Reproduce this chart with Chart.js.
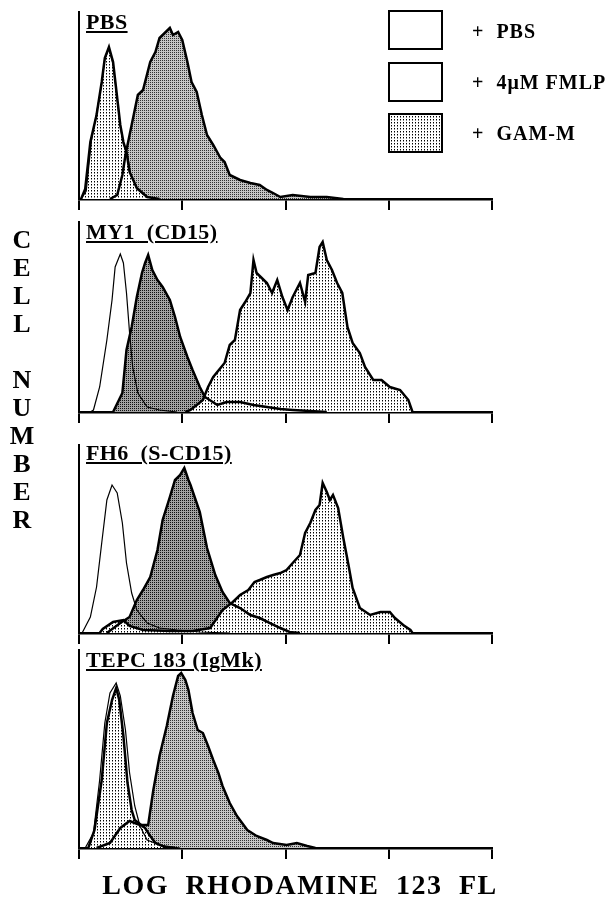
<!DOCTYPE html>
<html>
<head>
<meta charset="utf-8">
<script src="https://cdn.jsdelivr.net/npm/chart.js@4.4.1/dist/chart.umd.min.js"></script>
<style>
  body { margin: 0; background: #fff; }
  #page { position: relative; width: 616px; height: 899px; overflow: hidden; background: #fff;
          font-family: 'Liberation Serif', 'Times New Roman', serif; font-weight: bold; color: #000; }
  canvas.panel { position: absolute; left: 0; top: 0; }
  .tag { position: absolute; left: 86px; font-size: 22px; line-height: 22px; white-space: pre;
         text-decoration: underline; text-decoration-thickness: 2px; text-underline-offset: 2px; letter-spacing: 0.4px; }
  .box { position: absolute; left: 388px; width: 51px; height: 36px; border: 2px solid #000; background: #fff; }
  .key { position: absolute; left: 472px; font-size: 20px; line-height: 20px; white-space: pre; letter-spacing: 1px; }
  #ylab { position: absolute; left: 6px; top: 226px; width: 32px; text-align: center; font-size: 26px; line-height: 28px; white-space: pre; }
  #xlab { position: absolute; left: 60px; width: 480px; top: 871px; text-align: center; font-size: 28px; line-height: 28px;
          letter-spacing: 1.5px; word-spacing: 8px; white-space: pre; }
</style>
</head>
<body>
<div id="page">
  <canvas id="p1" class="panel" width="616" height="899"></canvas>
  <canvas id="p2" class="panel" width="616" height="899"></canvas>
  <canvas id="p3" class="panel" width="616" height="899"></canvas>
  <canvas id="p4" class="panel" width="616" height="899"></canvas>

  <div class="tag" style="top:11px">PBS</div>
  <div class="tag" style="top:221px">MY1  (CD15)</div>
  <div class="tag" style="top:442px">FH6  (S-CD15)</div>
  <div class="tag" style="top:649px">TEPC 183 (IgMk)</div>

  <div class="box" style="top:10px"></div>
  <div class="box" style="top:62px"></div>
  <div class="box" id="gamBox" style="top:113px"></div>
  <div class="key" style="top:21px">+  PBS</div>
  <div class="key" style="top:72px">+  4μM FMLP</div>
  <div class="key" style="top:123px">+  GAM-M</div>

  <div id="ylab">C
E
L
L

N
U
M
B
E
R</div>
  <div id="xlab">LOG RHODAMINE 123 FL</div>
</div>
<script>
// data: [log decade, cell number]

// panel 1 - PBS
const pbs_PBS = [[0.02,0],[0.07,8],[0.12,58],[0.17,86],[0.22,115],[0.25,140],[0.29,150],[0.33,135],[0.37,100],[0.40,72],[0.43,55],[0.47,44],[0.50,25],[0.56,10],[0.66,2],[0.78,0]];
const pbs_FMLP = [[0.30,0],[0.37,4],[0.42,24],[0.45,44],[0.51,74],[0.57,104],[0.62,109],[0.69,137],[0.74,147],[0.78,161],[0.83,166],[0.88,171],[0.91,164],[0.96,167],[1.00,159],[1.05,137],[1.09,117],[1.14,107],[1.19,84],[1.24,64],[1.30,54],[1.37,41],[1.41,37],[1.46,24],[1.56,19],[1.66,16],[1.75,14],[1.82,9],[1.88,6],[1.95,2],[2.07,4],[2.24,2],[2.40,2],[2.56,0]];
const pbs_GAM = [[0.02,0],[0.06,10],[0.11,57],[0.17,84],[0.22,117],[0.25,141],[0.29,152],[0.33,137],[0.37,101],[0.40,74],[0.43,57],[0.46,47],[0.49,27],[0.56,11],[0.66,2],[0.78,0]];

// panel 2 - MY1 (CD15)
const my1_PBS = [[0.11,0],[0.14,2],[0.20,25],[0.27,72],[0.32,112],[0.35,145],[0.40,158],[0.43,149],[0.46,119],[0.49,79],[0.52,45],[0.57,19],[0.66,5],[0.78,2],[0.95,0]];
const my1_FMLP = [[0.33,0],[0.42,19],[0.46,62],[0.51,85],[0.56,115],[0.61,139],[0.64,149],[0.67,157],[0.71,142],[0.76,132],[0.81,125],[0.88,112],[0.93,95],[0.98,75],[1.05,55],[1.10,42],[1.17,25],[1.22,15],[1.34,7],[1.43,10],[1.56,10],[1.69,7],[1.82,5],[1.95,3],[2.07,2],[2.40,0]];
const my1_GAM = [[1.03,0],[1.08,2],[1.14,7],[1.20,12],[1.25,25],[1.30,35],[1.41,49],[1.46,67],[1.51,72],[1.56,102],[1.61,110],[1.66,119],[1.69,152],[1.72,139],[1.77,134],[1.82,129],[1.87,119],[1.92,132],[1.97,115],[2.02,102],[2.07,115],[2.14,129],[2.19,110],[2.22,137],[2.29,139],[2.33,165],[2.36,170],[2.40,152],[2.45,142],[2.50,129],[2.55,119],[2.60,85],[2.65,69],[2.72,59],[2.77,45],[2.85,32],[2.93,32],[3.01,25],[3.11,22],[3.19,12],[3.23,0]];

// panel 3 - FH6 (S-CD15)
const fh6_PBS = [[0.03,0],[0.11,16],[0.17,46],[0.22,90],[0.27,133],[0.32,148],[0.37,140],[0.42,110],[0.46,70],[0.51,40],[0.56,23],[0.66,10],[0.78,5],[0.95,3],[1.17,1],[1.46,0]];
const fh6_FMLP = [[0.27,0],[0.40,10],[0.49,16],[0.56,33],[0.62,43],[0.69,56],[0.76,83],[0.81,113],[0.88,136],[0.93,153],[0.98,158],[1.02,165],[1.06,153],[1.08,148],[1.17,121],[1.24,85],[1.32,58],[1.39,41],[1.46,30],[1.56,25],[1.66,18],[1.75,15],[1.85,10],[1.95,5],[2.04,1],[2.14,0]];
const fh6_GAM = [[0.20,0],[0.23,4],[0.33,11],[0.43,13],[0.49,7],[0.62,3],[0.88,2],[1.10,2],[1.27,5],[1.39,23],[1.49,31],[1.56,38],[1.64,43],[1.70,51],[1.75,53],[1.82,56],[1.88,58],[1.95,60],[2.01,63],[2.07,70],[2.14,78],[2.19,100],[2.24,110],[2.29,123],[2.33,128],[2.36,150],[2.40,141],[2.43,133],[2.46,138],[2.51,125],[2.56,95],[2.61,68],[2.65,45],[2.72,25],[2.82,18],[2.92,21],[3.01,21],[3.06,15],[3.14,8],[3.21,3],[3.23,0]];

// panel 4 - TEPC 183 (IgMk)
const tepc_PBS = [[0.06,0],[0.14,15],[0.20,68],[0.25,125],[0.30,155],[0.36,165],[0.40,152],[0.45,118],[0.49,75],[0.54,42],[0.59,22],[0.66,8],[0.78,3],[0.98,0]];
const tepc_FMLP = [[0.17,0],[0.30,5],[0.40,20],[0.49,27],[0.54,25],[0.59,23],[0.67,23],[0.72,58],[0.78,92],[0.85,122],[0.91,152],[0.96,172],[0.99,175],[1.03,168],[1.06,158],[1.10,135],[1.15,118],[1.20,115],[1.25,102],[1.30,88],[1.35,75],[1.39,62],[1.46,45],[1.53,32],[1.63,18],[1.72,12],[1.82,8],[1.88,5],[2.01,3],[2.11,5],[2.21,2],[2.29,0]];
const tepc_GAM = [[0.09,0],[0.15,18],[0.22,68],[0.27,125],[0.32,148],[0.36,160],[0.39,148],[0.43,112],[0.47,65],[0.51,38],[0.54,28],[0.59,24],[0.64,20],[0.69,12],[0.74,5],[0.83,1],[0.93,0]];

const xTicks = [0, 1, 2, 3, 4];

// layout of the four stacked panels (page pixels)
const panelTop = [12, 222, 445, 650];
const panelBase = [199, 412, 633, 848];
const plotLeft = 79, plotRight = 492;

// fill patterns
function makeTile(w, h, bg, dots) {
    const c = document.createElement('canvas');
    c.width = w; c.height = h;
    const g = c.getContext('2d');
    g.fillStyle = bg;
    g.fillRect(0, 0, w, h);
    dots.forEach(function (d) {
        g.fillStyle = d[2];
        g.fillRect(d[0], d[1], 1, 1);
    });
    return c;
}
const patCtx = document.createElement('canvas').getContext('2d');
const fineLightTile = makeTile(2, 2, '#c6c6c6', [[0, 0, '#333']]);
const fineDarkTile = makeTile(2, 2, '#a2a2a2', [[0, 0, '#111']]);
const coarseTile = makeTile(3, 3, '#fff', [[1, 1, '#000'], [1, 2, '#888']]);
const fineLight = patCtx.createPattern(fineLightTile, 'repeat');
const fineDark = patCtx.createPattern(fineDarkTile, 'repeat');
const coarse = patCtx.createPattern(coarseTile, 'repeat');
const fineFill = [fineLight, fineDark, fineDark, fineLight];

document.getElementById('gamBox').style.backgroundImage = 'url(' + coarseTile.toDataURL() + ')';

function makePanel(id, i, pbs, fmlp, gam) {
    const top = panelTop[i], base = panelBase[i];
    return new Chart(document.getElementById(id), {
        type: 'line',
        data: {
            datasets: [{
                label: '+ PBS',
                data: pbs,
                borderColor: '#000',
                borderWidth: 1.2,
                fill: false,
                pointRadius: 0,
                tension: 0
            }, {
                label: '+ GAM-M',
                data: gam,
                borderColor: '#000',
                borderWidth: 2.5,
                backgroundColor: coarse,
                fill: 'origin',
                pointRadius: 0,
                tension: 0
            }, {
                label: '+ 4μM FMLP',
                data: fmlp,
                borderColor: '#000',
                borderWidth: 2.5,
                backgroundColor: fineFill[i],
                fill: 'origin',
                pointRadius: 0,
                tension: 0
            }]
        },
        options: {
            responsive: false,
            animation: false,
            events: [],
            layout: { padding: { left: plotLeft, right: 616 - plotRight, top: top, bottom: 899 - base - 12 } },
            plugins: {
                legend: { display: false },
                tooltip: { enabled: false },
                filler: { drawTime: 'beforeDatasetsDraw' }
            },
            scales: {
                x: {
                    type: 'linear',
                    min: xTicks[0],
                    max: xTicks[xTicks.length - 1],
                    afterBuildTicks: function (s) { s.ticks = xTicks.map(function (v) { return { value: v }; }); },
                    ticks: { display: false },
                    grid: { drawOnChartArea: false, drawTicks: true, tickLength: 11, color: '#000', lineWidth: 2 },
                    border: { display: true, color: '#000', width: 2.5 },
                    afterFit: function (s) { s.height = 12; }
                },
                y: {
                    type: 'linear',
                    min: 0,
                    max: base - top,
                    ticks: { display: false },
                    grid: { display: false, drawTicks: false },
                    border: { display: true, color: '#000', width: 2 },
                    afterFit: function (s) { s.width = 0; }
                }
            }
        }
    });
}

makePanel('p1', 0, pbs_PBS, pbs_FMLP, pbs_GAM);
makePanel('p2', 1, my1_PBS, my1_FMLP, my1_GAM);
makePanel('p3', 2, fh6_PBS, fh6_FMLP, fh6_GAM);
makePanel('p4', 3, tepc_PBS, tepc_FMLP, tepc_GAM);
</script>
</body>
</html>
